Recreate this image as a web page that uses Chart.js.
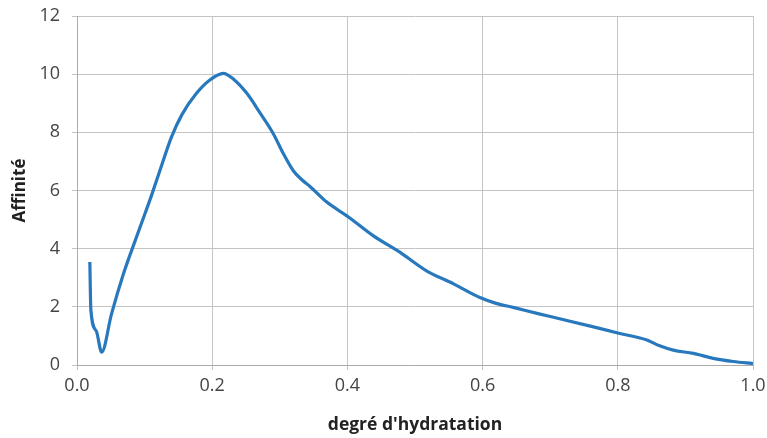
<!DOCTYPE html>
<html>
<head>
<meta charset="utf-8">
<script src="https://cdn.jsdelivr.net/npm/chart.js@4/dist/chart.umd.min.js"></script>
<style>
html,body{margin:0;padding:0;background:#fff;}
#wrap{width:767px;height:438px;position:relative;}
</style>
</head>
<body>
<div id="wrap"><canvas id="c" width="767" height="438"></canvas></div>
<script>
const hydration = [0.019,0.0205,0.0285,0.0365,0.051,0.0685,0.083,0.1005,0.1105,0.125,0.140,0.155,0.177,0.197,0.2165,0.232,0.251,0.271,0.290,0.305,0.320,0.333,0.345,0.369,0.401,0.438,0.478,0.517,0.557,0.596,0.620,0.645,0.685,0.714,0.764,0.800,0.843,0.862,0.882,0.912,0.941,0.971,1.0];
const affinity  = [3.54,1.9,1.17,0.44,1.75,3.12,4.08,5.2,5.85,6.85,7.85,8.6,9.35,9.81,10.03,9.82,9.35,8.66,7.97,7.28,6.68,6.36,6.13,5.61,5.10,4.45,3.87,3.24,2.79,2.32,2.12,1.98,1.75,1.59,1.31,1.10,0.86,0.66,0.51,0.40,0.23,0.12,0.05];
const xTitle = "degré d'hydratation";
const yTitle = "Affinité";

const points = hydration.map((x, i) => ({x: x, y: affinity[i]}));
const gridColor = '#c4c4c4';
const tickFont = {family: 'Open Sans', size: 18};

new Chart(document.getElementById('c'), {
  type: 'scatter',
  data: {
    datasets: [{
      data: points,
      showLine: true,
      borderColor: '#2878be',
      borderWidth: 3.2,
      pointRadius: 0,
      fill: false,
      cubicInterpolationMode: 'monotone'
    }]
  },
  options: {
    responsive: false,
    animation: false,
    layout: {padding: {top: 16, right: 14, bottom: 0, left: 0}},
    plugins: {legend: {display: false}, tooltip: {enabled: false}},
    scales: {
      x: {
        type: 'linear', min: 0, max: 1,
        ticks: {stepSize: 0.2, color: '#444', font: tickFont, padding: 5,
                callback: v => v.toFixed(1)},
        grid: {color: gridColor, tickLength: 5},
        border: {color: '#aaa'},
        title: {display: true, text: xTitle, color: '#222', font: {family: 'Open Sans', size: 17.5, weight: 'bold'}, padding: {top: 0, bottom: 2}},
        afterFit: s => { s.height = 73; s.paddingLeft = 0; s.paddingRight = 0; }
      },
      y: {
        min: 0, max: 12,
        ticks: {stepSize: 2, color: '#444', font: tickFont, padding: 12},
        grid: {color: gridColor, tickLength: 5},
        border: {color: '#aaa'},
        title: {display: true, text: yTitle, color: '#222', font: {family: 'Open Sans', size: 17, weight: 'bold'}, padding: {top: 10, bottom: 0}},
        afterFit: s => { s.width = 77; s.paddingTop = 0; s.paddingBottom = 0; }
      }
    }
  }
});
</script>
</body>
</html>
